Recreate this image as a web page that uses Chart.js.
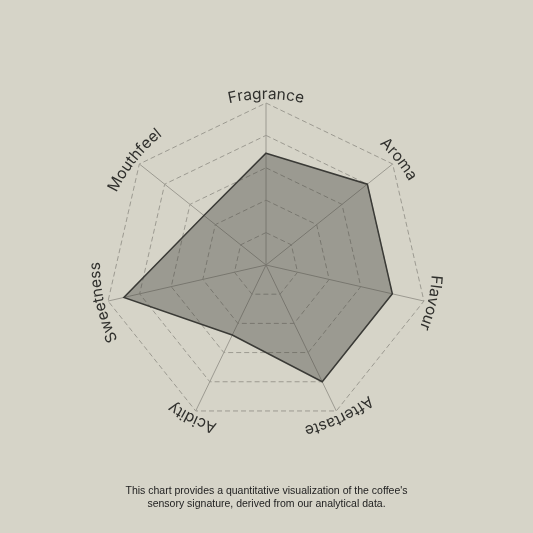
<!DOCTYPE html>
<html>
<head>
<meta charset="utf-8">
<script src="https://cdn.jsdelivr.net/npm/chart.js@4.4.1/dist/chart.umd.min.js"></script>
<style>
  html, body { margin: 0; padding: 0; background: #d6d4c8; }
  #wrap { position: relative; width: 533px; height: 533px; }
  #c { position: absolute; left: 0; top: 0; }
  #caption {
    position: absolute; left: 0; top: 484px; width: 533px;
    text-align: center; font-family: "Liberation Sans", Arial, sans-serif;
    font-size: 10.5px; line-height: 12.7px; color: #222;
  }
</style>
</head>
<body>
<div id="wrap">
  <canvas id="c" width="533" height="533"></canvas>
  <div id="caption">This chart provides a quantitative visualization of the coffee's<br>sensory signature, derived from our analytical data.</div>
</div>
<script>
const categories = ["Fragrance", "Aroma", "Flavour", "Aftertaste", "Acidity", "Sweetness", "Mouthfeel"];
const scores = [3.45, 4.0, 4.0, 4.0, 2.4, 4.5, 2.45];
const scaleMax = 5;

const arcLabels = {
  id: 'arcLabels',
  afterDraw(chart) {
    const scale = chart.scales.r;
    const ctx = chart.ctx;
    const R = scale.drawingArea + 4;
    ctx.save();
    ctx.font = '15.5px Inter, "Open Sans", sans-serif';
    ctx.fillStyle = '#30302d';
    ctx.textAlign = 'center';
    ctx.textBaseline = 'alphabetic';
    chart.data.labels.forEach((label, i) => {
      const theta = scale.getIndexAngle(i);
      const chars = Array.from(label);
      const widths = chars.map(ch => ctx.measureText(ch).width);
      const total = widths.reduce((a, b) => a + b, 0);
      let offset = -total / 2;
      chars.forEach((ch, k) => {
        const a = theta + (offset + widths[k] / 2) / R;
        ctx.save();
        ctx.translate(scale.xCenter, scale.yCenter);
        ctx.rotate(a);
        ctx.fillText(ch, 0, -R);
        ctx.restore();
        offset += widths[k];
      });
    });
    ctx.restore();
  }
};

new Chart(document.getElementById('c'), {
  type: 'radar',
  data: {
    labels: categories,
    datasets: [{
      data: scores,
      backgroundColor: 'rgba(60,60,55,0.38)',
      borderColor: '#3a3a36',
      borderWidth: 1.5,
      pointRadius: 0,
      pointHoverRadius: 0,
      fill: true
    }]
  },
  options: {
    responsive: false,
    animation: false,
    devicePixelRatio: 1,
    layout: { padding: { left: 104, right: 105, top: 103, bottom: 106 } },
    plugins: { legend: { display: false }, tooltip: { enabled: false } },
    scales: {
      r: {
        min: 0,
        max: scaleMax,
        ticks: { display: false, stepSize: 1 },
        pointLabels: { display: false },
        grid: { color: '#9c9a91', lineWidth: 1 },
        border: { dash: [5, 3] },
        angleLines: { color: '#9c9a91', lineWidth: 1 }
      }
    }
  },
  plugins: [arcLabels]
});
</script>
</body>
</html>
